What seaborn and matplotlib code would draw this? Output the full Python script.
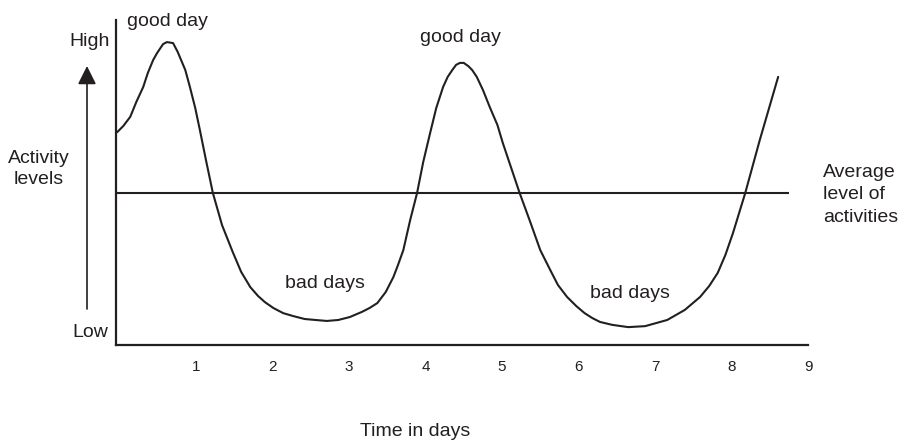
import numpy as np
import pandas as pd
import seaborn as sns
import matplotlib.pyplot as plt

# values (time in days, activity level 0..10)
days = [-0.03, 0.05, 0.14, 0.22, 0.31, 0.37, 0.44, 0.49, 0.57, 0.62,
        0.70, 0.76, 0.86, 0.92, 0.99, 1.05, 1.13, 1.22, 1.34, 1.48,
        1.59, 1.71, 1.81, 1.90, 2.01, 2.14, 2.27, 2.42, 2.56, 2.71,
        2.86, 3.01, 3.17, 3.27, 3.37, 3.48, 3.58, 3.64, 3.71, 3.80,
        3.89, 3.97, 4.06, 4.14, 4.23, 4.29, 4.35, 4.40, 4.45, 4.50,
        4.56, 4.61, 4.67, 4.75, 4.84, 4.94, 5.01, 5.12, 5.23, 5.37,
        5.50, 5.63, 5.73, 5.85, 5.97, 6.08, 6.18, 6.28, 6.44, 6.65,
        6.87, 7.16, 7.39, 7.59, 7.71, 7.82, 7.92, 8.02, 8.18, 8.37,
        8.61]
activity = [6.55, 6.74, 7.02, 7.48, 7.94, 8.37, 8.77, 8.98, 9.26, 9.32,
            9.29, 9.02, 8.46, 7.94, 7.29, 6.62, 5.69, 4.68, 3.69, 2.86,
            2.25, 1.78, 1.51, 1.32, 1.14, 0.98, 0.89, 0.80, 0.77, 0.74,
            0.77, 0.86, 1.02, 1.14, 1.29, 1.63, 2.09, 2.46, 2.92, 3.85,
            4.68, 5.63, 6.52, 7.29, 7.94, 8.25, 8.46, 8.62, 8.68, 8.68,
            8.58, 8.46, 8.25, 7.85, 7.32, 6.77, 6.22, 5.45, 4.68, 3.78,
            2.92, 2.31, 1.85, 1.48, 1.20, 0.98, 0.83, 0.71, 0.62, 0.55,
            0.58, 0.77, 1.08, 1.48, 1.82, 2.22, 2.77, 3.45, 4.68, 6.31,
            8.25]
average_level = 4.68
average_end = 8.75
tick_days = [1, 2, 3, 4, 5, 6, 7, 8, 9]

good_days = [0.63, 4.46]
good_heights = [9.82, 9.32]
bad_days = [2.68, 6.67]
bad_heights = [1.75, 1.45]

ink = '#231f20'
W, H = 909, 441

sns.set_style('white')
plt.rcParams['font.family'] = ['Liberation Sans', 'DejaVu Sans']

fig = plt.figure(figsize=(W / 100, H / 100), dpi=100)
ax = fig.add_axes([116 / W, 1 - 345 / H, (808 - 116) / W, (345 - 20) / H])

df = pd.DataFrame({'day': days, 'activity': activity})
sns.lineplot(data=df, x='day', y='activity', sort=False, color=ink, lw=1.5,
             solid_joinstyle='round', solid_capstyle='round', ax=ax)
ax.hlines(average_level, -0.046, average_end, color=ink, lw=1.5)

ax.set_xlim(-0.046, 9)
ax.set_ylim(0, 10)
ax.set_xlabel('')
ax.set_ylabel('')
ax.set_yticks([])
ax.set_xticks(tick_days)
ax.set_xticklabels([str(d) for d in tick_days], fontsize=11, color=ink)
ax.tick_params(axis='x', length=0, pad=11)
for s in ['top', 'right']:
    ax.spines[s].set_visible(False)
for s in ['left', 'bottom']:
    ax.spines[s].set_color(ink)
    ax.spines[s].set_linewidth(1.6)

for x, y in zip(good_days, good_heights):
    ax.text(x, y, 'good day', ha='center', va='baseline', fontsize=14, color=ink, clip_on=False)
for x, y in zip(bad_days, bad_heights):
    ax.text(x, y, 'bad days', ha='center', va='baseline', fontsize=14, color=ink)


def px(x, y):
    return x / W, 1 - y / H


fig.text(*px(110, 46), 'High', ha='right', va='baseline', fontsize=14, color=ink)
fig.text(*px(108, 337), 'Low', ha='right', va='baseline', fontsize=14, color=ink)
fig.text(*px(39, 163), 'Activity', ha='center', va='baseline', fontsize=14, color=ink)
fig.text(*px(39, 184), 'levels', ha='center', va='baseline', fontsize=14, color=ink)
for i, line in enumerate(['Average', 'level of', 'activities']):
    fig.text(*px(823, 177 + 22.5 * i), line, ha='left', va='baseline', fontsize=14, color=ink)
fig.text(*px(415, 436), 'Time in days', ha='center', va='baseline', fontsize=14, color=ink)

ax.annotate('', xy=(87, H - 66), xytext=(87, H - 309), xycoords='figure pixels',
            textcoords='figure pixels',
            arrowprops=dict(arrowstyle='-|>,head_length=0.8,head_width=0.4',
                            color=ink, lw=1.2, mutation_scale=14, shrinkA=0, shrinkB=0))

fig.savefig('out.png', dpi=100)
